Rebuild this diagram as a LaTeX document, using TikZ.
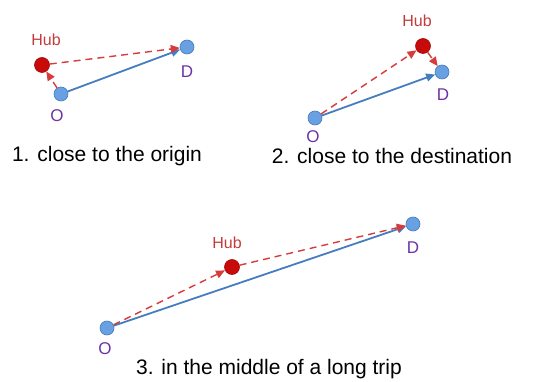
\documentclass[tikz,border=0pt]{standalone}
\usepackage{fontspec}
\setmainfont{Liberation Sans}
\usetikzlibrary{arrows.meta, positioning}

\definecolor{ptblue}{RGB}{105,160,225}
\definecolor{ptedge}{RGB}{70,120,190}
\definecolor{trip}{RGB}{70,125,190}
\definecolor{hubred}{RGB}{200,10,10}
\definecolor{detour}{RGB}{215,60,60}
\definecolor{hubtxt}{RGB}{195,60,60}
\definecolor{odtxt}{RGB}{110,50,165}

\tikzset{
    place/.style={circle, fill=ptblue, draw=ptedge, line width=0.6pt, inner sep=0pt, minimum size=14pt},
    hub/.style={circle, fill=hubred, draw=hubred!80!black, line width=0.6pt, inner sep=0pt, minimum size=15pt},
    direct/.style={trip, line width=1.8pt, -{Triangle[length=9pt, width=8pt]}},
    viahub/.style={detour, line width=1.4pt, dash pattern=on 7pt off 5pt, -{Triangle[length=9pt, width=8pt]}},
    hubname/.style={text=hubtxt, font=\fontsize{16}{18}\selectfont},
    odname/.style={text=odtxt, font=\fontsize{17}{19}\selectfont},
    caption/.style={font=\fontsize{21}{24}\selectfont}
}

\begin{document}
\begin{tikzpicture}[x=1pt, y=-1pt]

    % fixed frame as in the original (538 x 382)
    \useasboundingbox (0,0) rectangle (538,382);

    % 1. hub close to the origin
    \node[place] (O1) at (61,94) {};
    \node[place] (D1) at (187,47) {};
    \node[hub]   (H1) at (42,65) {};
    \node[hubname] (h1) at (46,40) {Hub};
    \node[odname]  (d1) at (187,72) {D};
    \node[odname]  (o1) at (57,116) {O};
    \draw[direct] (O1) -- (D1);
    \draw[viahub] (O1) -- (H1);
    \draw[viahub] (H1) -- (D1);
    \node[caption] (c1) at (107,156) {1. close to the origin};

    % 2. hub close to the destination
    \node[place] (O2) at (315,118) {};
    \node[place] (D2) at (442,72) {};
    \node[hub]   (H2) at (423,46) {};
    \node[hubname] (h2) at (417,21) {Hub};
    \node[odname]  (d2) at (443,95) {D};
    \node[odname]  (o2) at (313,137) {O};
    \draw[direct] (O2) -- (D2);
    \draw[viahub] (O2) -- (H2);
    \draw[viahub] (H2) -- (D2);
    \node[caption] (c2) at (392,156) {2. close to the destination};

    % 3. hub in the middle of a long trip
    \node[place] (O3) at (107,328) {};
    \node[place] (D3) at (413,224) {};
    \node[hub]   (H3) at (232,267) {};
    \node[hubname] (h3) at (227,243) {Hub};
    \node[odname]  (d3) at (413,248) {D};
    \node[odname]  (o3) at (105,349) {O};
    \draw[direct] (O3) -- (D3);
    \draw[viahub] (O3) -- (H3);
    \draw[viahub] (H3) -- (D3);
    \node[caption] (c3) at (269,369) {3. in the middle of a long trip};

\end{tikzpicture}
\end{document}
